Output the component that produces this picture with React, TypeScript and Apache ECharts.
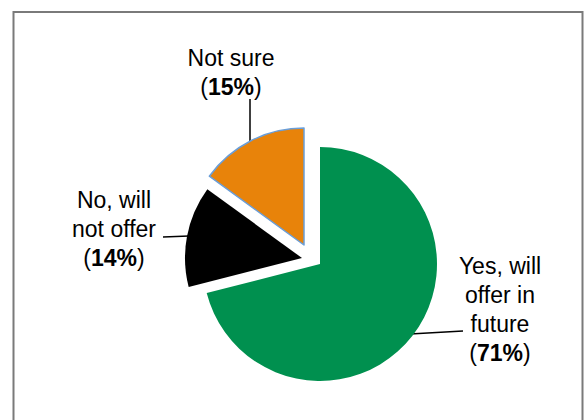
import React, { useEffect, useRef } from "react";
import * as echarts from "echarts";

const categories = ["Yes, will offer in future", "No, will not offer", "Not sure"];
const labelLines = [["Yes, will", "offer in", "future"], ["No, will", "not offer"], ["Not sure"]];
const values = [71, 14, 15];
const colors = ["#00904F", "#000000", "#E8830A"];

// styling: explosion shift of each slice (px) and label placement
const explode = [
  [0, 0],
  [-18, -6],
  [-16, -19],
];
const labelPos = [
  { x: 500, y: 309, line: [[463, 331], [410, 334]] },
  { x: 114, y: 229, line: [[163, 237], [189, 236]] },
  { x: 231, y: 72, line: [[250, 99], [250, 142]] },
];

export default function App() {
  const ref = useRef<HTMLDivElement>(null);
  useEffect(() => {
    if (!ref.current) return;
    const chart = echarts.init(ref.current, null, { renderer: "svg" });
    const font = "'Liberation Sans', Arial, sans-serif";
    const cx = 320;
    const cy = 264;
    const series = values.map((_, k) => ({
      type: "pie",
      center: [cx + explode[k][0], cy + explode[k][1]],
      radius: [0, 117],
      startAngle: 90,
      clockwise: true,
      avoidLabelOverlap: false,
      silent: true,
      emphasis: { disabled: true },
      data: values.map((v, i) => ({
        name: categories[i],
        value: v,
        itemStyle:
          i !== k
            ? { color: "rgba(0,0,0,0)", borderWidth: 0 }
            : i === 2
            ? { color: colors[i], borderColor: "#6A9ED8", borderWidth: 1.5 }
            : { color: colors[i], borderWidth: 0 },
        label: { show: i === k },
        labelLine: { show: i === k },
      })),
      label: {
        show: true,
        position: "outside",
        fontFamily: font,
        fontSize: 23,
        color: "#000",
        lineHeight: 29,
        align: "center",
        formatter: (p: any) => {
          const i = p.dataIndex;
          return labelLines[i].map((s) => `{a|${s}}`).join("\n") + `\n{a|(}{b|${values[i]}%}{a|)}`;
        },
        rich: {
          a: { fontFamily: font, fontSize: 23, lineHeight: 29, color: "#000" },
          b: { fontFamily: font, fontSize: 23, lineHeight: 29, color: "#000", fontWeight: "bold" },
        },
      },
      labelLine: { show: true, lineStyle: { color: "#000", width: 1.5 } },
      labelLayout: (p: any) => {
        const lp = labelPos[p.dataIndex];
        return {
          x: lp.x,
          y: lp.y,
          align: "center",
          verticalAlign: "middle",
          labelLinePoints: lp.line,
        };
      },
    }));
    chart.setOption({
      animation: false,
      backgroundColor: "#ffffff",
      graphic: [
        {
          type: "rect",
          shape: { x: 13.5, y: 12, width: 569, height: 430 },
          style: { fill: "none", stroke: "#7a7a7a", lineWidth: 2 },
          silent: true,
        },
      ],
      series,
    });
    return () => chart.dispose();
  }, []);
  return (
    <div
      ref={ref}
      style={{ position: "fixed", left: 0, top: 0, width: 587, height: 420, background: "#fff" }}
    />
  );
}
